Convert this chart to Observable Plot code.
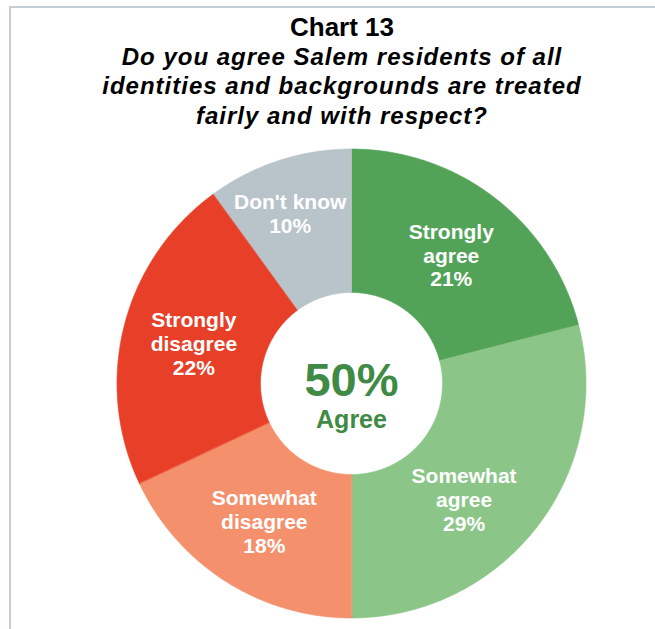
<!DOCTYPE html>
<html><head><meta charset="utf-8">
<script src="https://cdn.jsdelivr.net/npm/d3@7"></script>
<script src="https://cdn.jsdelivr.net/npm/@observablehq/plot@0.6"></script>
<style>
html,body{margin:0;padding:0;background:#fff;width:655px;height:629px;overflow:hidden;font-family:"Liberation Sans",Arial,sans-serif;}
#wrap{position:relative;width:655px;height:629px;}
#title{position:absolute;left:0;top:0;width:684px;text-align:center;font-weight:bold;color:#000;padding-top:13px;line-height:29.2px;}
#title .t{font-size:26px;}
#title .s{font-size:24px;font-style:italic;letter-spacing:1px;}
#chart{position:absolute;left:0;top:135px;}
.bl{position:absolute;background:#c5cdd5;}
</style></head><body>
<div id="wrap">
<div id="title"><div class="t">Chart 13</div><div class="s">Do you agree Salem residents of all<br>identities and backgrounds are treated<br>fairly and with respect?</div></div>
<div id="chart"></div>
<div class="bl" style="left:9px;top:6px;width:646px;height:2px"></div>
<div class="bl" style="left:9px;top:6px;width:2px;height:623px"></div>
</div>
<script>
const categories = ["Strongly agree","Somewhat agree","Somewhat disagree","Strongly disagree","Don't know"];
const labelLines = ["Strongly\nagree","Somewhat\nagree","Somewhat\ndisagree","Strongly\ndisagree","Don't know"];
const values = [21,29,18,22,10];
const colors = ["#52a358","#8bc688","#f5906c","#e84028","#b9c3ca"];
const centerValue = "50%";
const centerLabel = "Agree";

const W = 655, H = 494, cx = 351, cy = 248, R = 234.5, r0 = 91;
const inner = r0 / R;
const arcs = d3.pie().sort(null).value(d => d)(values);

const points = [];
arcs.forEach((a, i) => {
  const n = Math.max(2, Math.ceil((a.endAngle - a.startAngle) / (Math.PI / 360)));
  for (let k = 0; k <= n; k++) {
    const t = a.startAngle + (a.endAngle - a.startAngle) * k / n;
    points.push({cat: categories[i], x: Math.sin(t), y: Math.cos(t)});
  }
  for (let k = n; k >= 0; k--) {
    const t = a.startAngle + (a.endAngle - a.startAngle) * k / n;
    points.push({cat: categories[i], x: inner * Math.sin(t), y: inner * Math.cos(t)});
  }
});

// label placement: mid-ring centroid, with small best-fit nudges (pixels) like the original
const nudge = {"Somewhat agree": [-16, 16], "Don't know": [-11, -15]};
const rm = (1 + inner) / 2;
const labels = arcs.map((a, i) => {
  const m = (a.startAngle + a.endAngle) / 2;
  const [nx, ny] = nudge[categories[i]] || [0, 0];
  return {x: rm * Math.sin(m) + nx / R, y: rm * Math.cos(m) - ny / R, text: labelLines[i] + "\n" + values[i] + "%"};
});

const chart = Plot.plot({
  width: W, height: H, margin: 0,
  style: {fontFamily: '"Liberation Sans", Arial, sans-serif', background: "transparent"},
  x: {domain: [-cx / R, (W - cx) / R], axis: null},
  y: {domain: [-(H - cy) / R, cy / R], axis: null},
  color: {domain: categories, range: colors},
  marks: [
    Plot.line(points, {x: "x", y: "y", z: "cat", fill: "cat", stroke: "cat", strokeWidth: 0.6, curve: "linear-closed"}),
    Plot.text(labels, {x: "x", y: "y", text: "text", fill: "white", fontSize: 21, fontWeight: "bold", lineHeight: 1.14}),
    Plot.text([{x: 0, y: 0, t: centerValue}], {x: "x", y: "y", text: "t", fill: "#3f8a44", fontSize: 47, fontWeight: "bold", lineAnchor: "bottom", dy: 12}),
    Plot.text([{x: 0, y: 0, t: centerLabel}], {x: "x", y: "y", text: "t", fill: "#3f8a44", fontSize: 25, fontWeight: "bold", lineAnchor: "bottom", dy: 44})
  ]
});
document.getElementById("chart").appendChild(chart);
</script>
</body></html>
